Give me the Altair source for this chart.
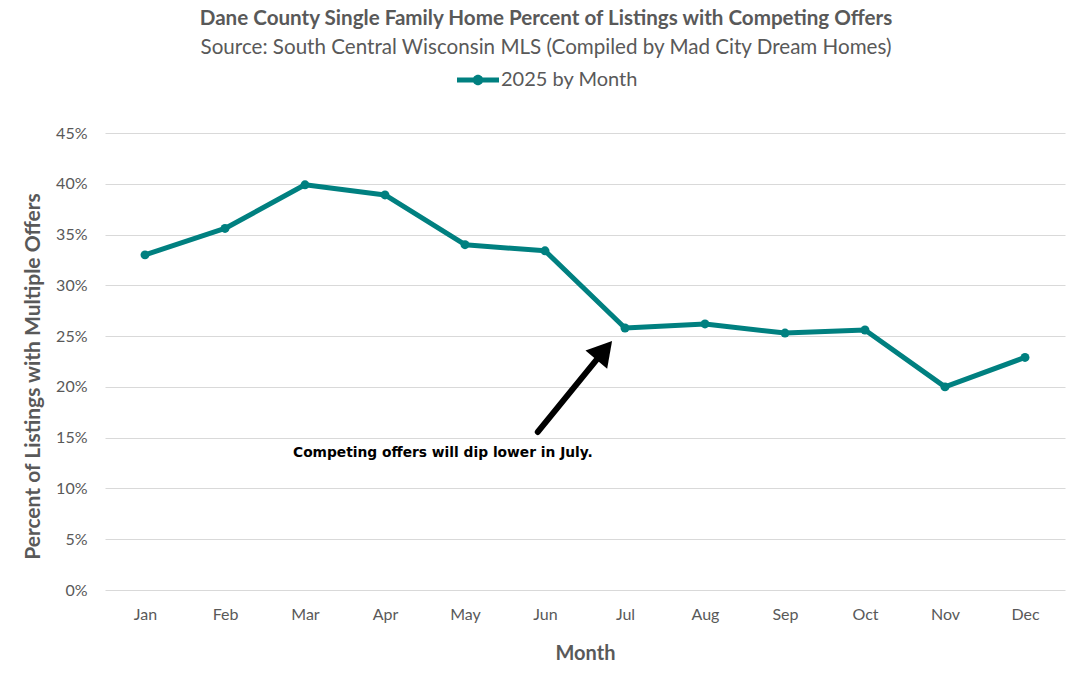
import altair as alt
import pandas as pd
import json

months = ["Jan", "Feb", "Mar", "Apr", "May", "Jun", "Jul", "Aug", "Sep", "Oct", "Nov", "Dec"]
values = [0.330, 0.356, 0.399, 0.389, 0.340, 0.334, 0.258, 0.262, 0.253, 0.256, 0.200, 0.229]
series_name = "2025 by Month"

note_text = ["Competing offers will dip lower in July."]
note_x = [2.85]
note_y = [0.135]

arrow_x = [5.91]
arrow_y = [0.1556]
arrow_x2 = [6.74]
arrow_y2 = [0.236]

TEAL = "#008080"
GRAY = "#595959"
FONT = "Lato"

df = pd.DataFrame({"idx": list(range(1, 13)), "month": months, "value": values, "series": series_name})
note_df = pd.DataFrame({"x": note_x, "y": note_y, "t": note_text})
arrow_df = pd.DataFrame({"x": arrow_x, "y": arrow_y, "x2": arrow_x2, "y2": arrow_y2})

label_expr = json.dumps(months) + "[datum.value - 1]"

x_enc = alt.X("idx:Q", scale=alt.Scale(domain=[0.5, 12.5], nice=False, zero=False),
              axis=alt.Axis(values=list(range(1, 13)), labelExpr=label_expr, title="Month",
                            grid=False, ticks=False, domain=False, labelPadding=16,
                            titlePadding=21))
y_enc = alt.Y("value:Q", scale=alt.Scale(domain=[0, 0.45], nice=False),
              axis=alt.Axis(format=".0%", values=[i * 0.05 for i in range(10)],
                            title="Percent of Listings with Multiple Offers",
                            ticks=False, domain=False, labelPadding=18, titlePadding=12,
                            titleY=243, titleFontSize=21,
                            gridColor="#d9d9d9", gridWidth=1.2))

line = alt.Chart(df).mark_line(strokeWidth=5, strokeJoin="round").encode(
    x=x_enc, y=y_enc,
    color=alt.Color("series:N", scale=alt.Scale(range=[TEAL]),
                    legend=alt.Legend(title=None, orient="none", legendX=352, legendY=-74,
                                      symbolType="M-1,-0.12 L1,-0.12 L1,0.12 L-1,0.12 Z M0.25,0 A0.25,0.25 0 1,1 -0.25,0 A0.25,0.25 0 1,1 0.25,0 Z",
                                      symbolSize=1764, symbolFillColor=TEAL, symbolStrokeWidth=0,
                                      labelFontSize=20, labelColor=GRAY, labelFont=FONT,
                                      labelOffset=2)),
)
pts = alt.Chart(df).mark_circle(size=80, opacity=1, color=TEAL).encode(x="idx:Q", y="value:Q")

arrow = alt.Chart(arrow_df).mark_rule(strokeWidth=6, color="black", strokeCap="round").encode(
    x="x:Q", y="y:Q", x2="x2", y2="y2")
head = alt.Chart(arrow_df).mark_point(shape="triangle-up", size=800, filled=True, color="black",
                                      opacity=1, angle=40).encode(x="x2:Q", y="y2:Q")
note = alt.Chart(note_df).mark_text(align="left", baseline="middle", fontSize=13.8, fontWeight="bold",
                                    font="DejaVu Sans", color="black").encode(
    x="x:Q", y="y:Q", text="t:N")

chart = alt.layer(line, pts, arrow, head, note).properties(
    width=960, height=457,
    background="white",
    title=alt.TitleParams(
        text="Dane County Single Family Home Percent of Listings with Competing Offers",
        subtitle="Source: South Central Wisconsin MLS (Compiled by Mad City Dream Homes)",
        anchor="middle", frame="group", dx=-39, offset=0,
        font=FONT, fontSize=20.6, fontWeight="bold", color=GRAY,
        subtitleFont=FONT, subtitleFontSize=20.6, subtitleColor=GRAY, subtitlePadding=9),
    autosize=alt.AutoSizeParams(type="none"),
    padding={"left": 105, "top": 133, "right": 27, "bottom": 89},
).configure_view(stroke=None).configure_axis(
    labelFont=FONT, labelFontSize=16, labelColor=GRAY,
    titleFont=FONT, titleFontSize=20, titleFontWeight="bold", titleColor=GRAY,
)

chart.save("out.html", embed_options={"renderer": "svg", "actions": False})
